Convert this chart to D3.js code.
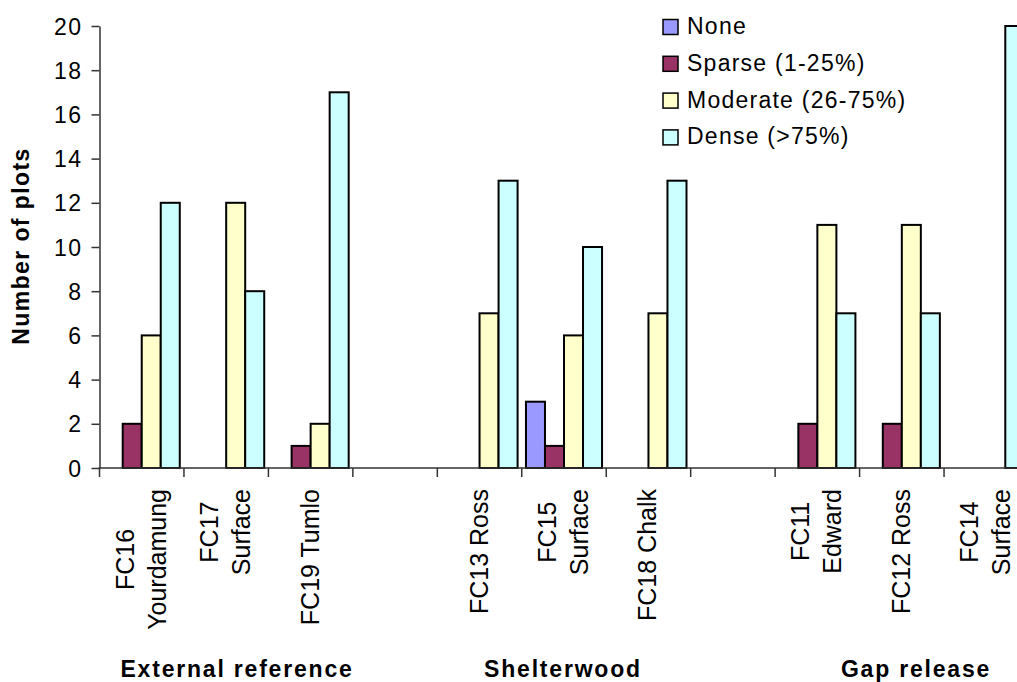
<!DOCTYPE html>
<html>
<head>
<meta charset="utf-8">
<script src="https://cdn.jsdelivr.net/npm/d3@7"></script>
<style>
  html, body { margin: 0; padding: 0; background: #fff; }
  svg { display: block; font-family: Arial, "Liberation Sans", Helvetica, sans-serif; }
</style>
</head>
<body>
<svg id="chart" width="1017" height="682"></svg>
<script>
// Site labels (one entry per slot; empty slots separate the treatment groups)
const categories = [
  ["FC16", "Yourdamung"], ["FC17", "Surface"], ["FC19 Tumlo"], [],
  ["FC13 Ross"], ["FC15", "Surface"], ["FC18 Chalk"], [],
  ["FC11", "Edward"], ["FC12 Ross"], ["FC14", "Surface"]
];
const seriesNames = ["None", "Sparse (1-25%)", "Moderate (26-75%)", "Dense (>75%)"];
const seriesColors = ["#9999FF", "#993366", "#FFFFCC", "#CCFFFF"];

// Number of plots per cover class
const noneValues     = [0, 0, 0, 0, 0, 3, 0, 0, 0, 0, 0];
const sparseValues   = [2, 0, 1, 0, 0, 1, 0, 0, 2, 2, 0];
const moderateValues = [6, 12, 2, 0, 7, 6, 7, 0, 11, 11, 0];
const denseValues    = [12, 8, 17, 0, 13, 10, 13, 0, 7, 7, 20];

const yTicks = [0, 2, 4, 6, 8, 10, 12, 14, 16, 18, 20];
const yTitle = "Number of plots";
const groupLabels = ["External reference", "Shelterwood", "Gap release"];
const groupCenters = [237, 563, 916];

const seriesValues = [noneValues, sparseValues, moderateValues, denseValues];

const svg = d3.select("#chart");
const plot = { left: 99.5, right: 1028.5, top: 26, bottom: 468 };

const slotIdx = d3.range(categories.length);
const x0 = d3.scaleBand().domain(slotIdx).range([plot.left, plot.right]).paddingInner(0).paddingOuter(0);
const x1 = d3.scaleBand().domain(d3.range(seriesNames.length)).range([0, x0.bandwidth()]).paddingInner(0).paddingOuter(0.22);
const y = d3.scaleLinear().domain([0, 20]).range([plot.bottom, plot.top]);

// Bars
const barData = [];
slotIdx.forEach(i => {
  seriesValues.forEach((vals, s) => {
    if (vals[i] > 0) barData.push({ i, s, v: vals[i] });
  });
});
svg.append("g").selectAll("rect").data(barData).join("rect")
  .attr("x", d => x0(d.i) + x1(d.s))
  .attr("y", d => y(d.v))
  .attr("width", x1.bandwidth())
  .attr("height", d => y(0) - y(d.v))
  .attr("fill", d => seriesColors[d.s])
  .attr("stroke", "#000")
  .attr("stroke-width", 2);

// Y axis
const yAxis = svg.append("g")
  .attr("transform", `translate(${plot.left},0)`)
  .call(d3.axisLeft(y).tickValues(yTicks).tickSize(8).tickPadding(10).tickSizeOuter(0));
yAxis.attr("font-family", null).attr("font-size", null);
yAxis.select(".domain").attr("stroke", "#333").attr("stroke-width", 1.5);
yAxis.selectAll(".tick line").attr("stroke", "#333").attr("stroke-width", 1.5);
yAxis.selectAll(".tick text")
  .attr("fill", "#000")
  .style("font-size", "23px")
  .style("letter-spacing", "1.5px")
  .attr("x", -17)
  .attr("dy", "0.35em");

// X axis line and slot-boundary ticks
svg.append("line")
  .attr("x1", plot.left - 1).attr("x2", plot.right)
  .attr("y1", y(0)).attr("y2", y(0))
  .attr("stroke", "#333").attr("stroke-width", 1.5);
svg.append("g").selectAll("line").data(d3.range(categories.length + 1)).join("line")
  .attr("x1", i => plot.left + i * x0.step())
  .attr("x2", i => plot.left + i * x0.step())
  .attr("y1", y(0)).attr("y2", y(0) + 9)
  .attr("stroke", "#333").attr("stroke-width", 1.5);

// Category labels, rotated, lines centred on the longest line
const labelTop = 489;
const catG = svg.append("g").style("font-size", "25px").attr("fill", "#000");
slotIdx.forEach(i => {
  const lines = categories[i];
  if (!lines.length) return;
  const cx = x0(i) + x0.bandwidth() / 2;
  const g = catG.append("g");
  const texts = lines.map((t, k) => {
    const base = lines.length === 1 ? cx + 8 : cx - 8 + k * 32;
    return g.append("text").attr("text-anchor", "middle").text(t).datum(base);
  });
  const maxLen = d3.max(texts, t => t.node().getComputedTextLength());
  const cy = labelTop + maxLen / 2;
  texts.forEach(t => t.attr("transform", `translate(${t.datum()},${cy}) rotate(-90)`));
});

// Y title
svg.append("text")
  .attr("transform", "translate(29,246) rotate(-90)")
  .attr("text-anchor", "middle")
  .style("font-size", "23px")
  .style("font-weight", "bold")
  .style("letter-spacing", "1.4px")
  .text(yTitle);

// Treatment group labels
svg.append("g").selectAll("text").data(groupLabels).join("text")
  .attr("x", (d, i) => groupCenters[i])
  .attr("y", 677)
  .attr("text-anchor", "middle")
  .style("font-size", "23px")
  .style("font-weight", "bold")
  .style("letter-spacing", "1.8px")
  .text(d => d);

// Legend
const legend = svg.append("g").attr("transform", "translate(663,27)");
const rows = legend.selectAll("g").data(seriesNames).join("g")
  .attr("transform", (d, i) => `translate(0,${i * 36.8})`);
rows.append("rect")
  .attr("x", 0).attr("y", -7.5).attr("width", 15).attr("height", 15)
  .attr("fill", (d, i) => seriesColors[i])
  .attr("stroke", "#000").attr("stroke-width", 1.5);
rows.append("text")
  .attr("x", 24).attr("y", 7)
  .style("font-size", "23px")
  .style("letter-spacing", "1.25px")
  .text(d => d);
</script>
</body>
</html>
